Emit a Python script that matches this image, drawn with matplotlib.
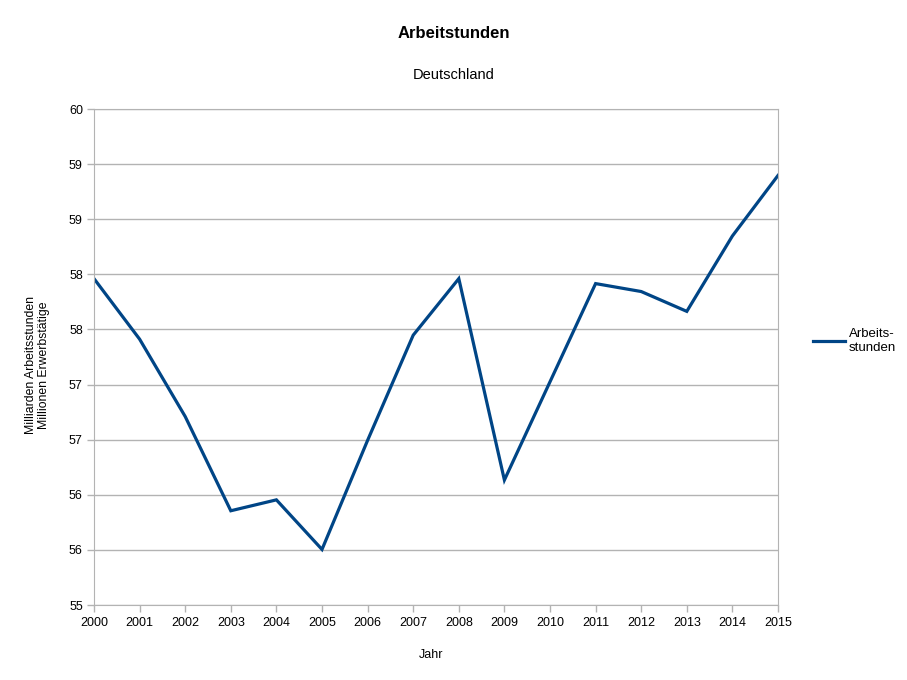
import matplotlib
matplotlib.use("Agg")
import matplotlib.pyplot as plt
import numpy as np

plt.rcParams['font.family'] = ['Liberation Sans', 'DejaVu Sans']

years = [2000, 2001, 2002, 2003, 2004, 2005, 2006, 2007, 2008, 2009, 2010, 2011, 2012, 2013, 2014, 2015]
values = [58.29, 57.68, 56.90, 55.95, 56.06, 55.56, 56.66, 57.72, 58.29, 56.26, 57.25, 58.24, 58.16, 57.96, 58.72, 59.33]
series_name = "Arbeits-\nstunden"
title = "Arbeitstunden"
subtitle = "Deutschland"
xlabel = "Jahr"
ylabel = "Milliarden Arbeitsstunden\nMillionen Erwerbstätige"

fig = plt.figure(figsize=(9.07, 6.8), dpi=100)
ax = fig.add_axes([94/907, 1-605/680, (778-94)/907, (605-109)/680])

ax.plot(years, values, color='#004586', lw=2.3, label=series_name, solid_joinstyle='miter')

ax.set_xlim(2000, 2015)
ax.set_ylim(55, 60)
yt = np.linspace(55, 60, 10)
ax.set_yticks(yt)
ax.set_yticklabels([f"{v:.0f}" for v in np.floor(yt + 0.5)])
ax.set_xticks(years)
ax.set_xticklabels([str(y) for y in years])
ax.grid(axis='y', color='#b3b3b3', lw=1)
ax.set_axisbelow(True)
for s in ax.spines.values():
    s.set_color('#b3b3b3')
ax.tick_params(axis='both', colors='#b3b3b3', labelcolor='black', labelsize=9, length=5, width=1)
ax.tick_params(axis='y', length=5, pad=3)

fig.text(454/907, 1-33/680, title, ha='center', va='center', fontsize=12, fontweight='bold')
fig.text(454/907, 1-75/680, subtitle, ha='center', va='center', fontsize=10.5)
fig.text(431/907, 1-655/680, xlabel, ha='center', va='center', fontsize=9)
fig.text(37.5/907, 1-365/680, ylabel, ha='center', va='center', fontsize=8.8, rotation=90, linespacing=1.15)

leg = fig.legend(loc='center left', bbox_to_anchor=(808/907, 1-341/680), frameon=False,
                 fontsize=9.5, handlelength=2.4, handletextpad=0.3, borderaxespad=0)

fig.savefig("out.png", dpi=100)
